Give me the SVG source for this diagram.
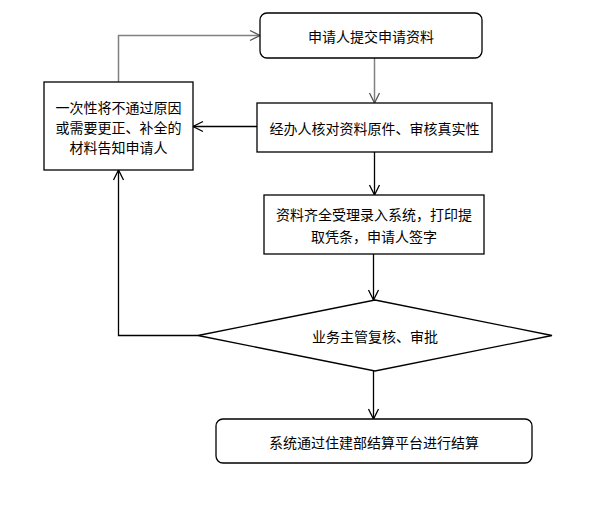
<svg xmlns="http://www.w3.org/2000/svg" width="594" height="510" viewBox="0 0 594 510">
<style>
.box{fill:#fff;stroke:#000;stroke-width:1.3}
.t{font-family:"Noto Sans CJK SC","Liberation Sans",sans-serif;font-size:14px;fill:#000;text-anchor:middle;dominant-baseline:central}
.ln{fill:none;stroke:#000;stroke-width:1.3}
.lg{fill:none;stroke:#808080;stroke-width:1.5}
</style>
<defs>
<marker id="a" markerUnits="userSpaceOnUse" markerWidth="12" markerHeight="12" refX="10" refY="5" orient="auto" viewBox="0 0 12 10" overflow="visible">
<path d="M0,0 L10,5 L0,10" fill="none" stroke="#000" stroke-width="1.3"/>
</marker>
<marker id="ag" markerUnits="userSpaceOnUse" markerWidth="12" markerHeight="12" refX="10" refY="5" orient="auto" viewBox="0 0 12 10" overflow="visible">
<path d="M0,0 L10,5 L0,10" fill="none" stroke="#555" stroke-width="1.3"/>
</marker>
</defs>
<rect width="594" height="510" fill="#fff"/>
<g id="connectors">
<path class="lg" d="M374.5,58 V103" marker-end="url(#ag)"/>
<path class="ln" d="M374.5,152 V195" marker-end="url(#a)"/>
<path class="ln" d="M373.5,254 V300" marker-end="url(#a)"/>
<path class="ln" d="M373.5,371 V419" marker-end="url(#a)"/>
<path class="ln" d="M257,126.5 H193" marker-end="url(#a)"/>
<path class="ln" d="M198,335.5 H118.5 V170" marker-end="url(#a)"/>
<path class="lg" d="M118.5,82 V35.5 H260" marker-end="url(#ag)"/>
</g>
<g id="n1">
<rect class="box" x="260" y="13" width="222" height="45" rx="7"/>
<text class="t" x="371" y="36">申请人提交申请资料</text>
</g>
<g id="n2">
<rect class="box" x="257" y="103" width="235" height="49"/>
<text class="t" x="374.5" y="127.5">经办人核对资料原件、审核真实性</text>
</g>
<g id="n3">
<rect class="box" x="44" y="82" width="149" height="88"/>
<text class="t" x="118.5" y="107">一次性将不通过原因</text>
<text class="t" x="118.5" y="127">或需要更正、补全的</text>
<text class="t" x="118.5" y="147">材料告知申请人</text>
</g>
<g id="n4">
<rect class="box" x="264" y="195" width="220" height="59"/>
<text class="t" x="374" y="213.5">资料齐全受理录入系统，打印提</text>
<text class="t" x="374" y="235.5">取凭条，申请人签字</text>
</g>
<g id="n5">
<polygon class="box" points="375,300 552,335.5 375,371 198,335.5"/>
<text class="t" x="375" y="336">业务主管复核、审批</text>
</g>
<g id="n6">
<rect class="box" x="216" y="419" width="316" height="44" rx="7"/>
<text class="t" x="374" y="441.5">系统通过住建部结算平台进行结算</text>
</g>
</svg>
